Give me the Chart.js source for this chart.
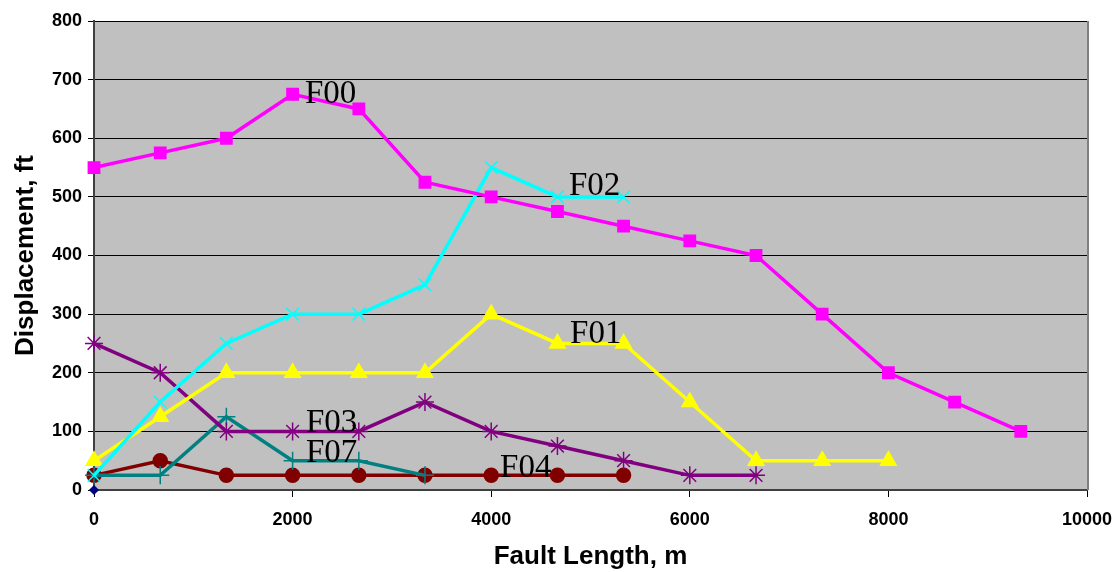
<!DOCTYPE html>
<html>
<head>
<meta charset="utf-8">
<script src="https://cdn.jsdelivr.net/npm/chart.js@4/dist/chart.umd.min.js"></script>
<style>
html,body{margin:0;padding:0;background:#fff;}
#wrap{width:1119px;height:572px;}
</style>
</head>
<body>
<div id="wrap"><canvas id="c" width="1119" height="572"></canvas></div>
<script>
// Fault length positions (m)
const lengths = [0, 667, 1333, 2000, 2667, 3333, 4000, 4667, 5333, 6000, 6667, 7333, 8000, 8667, 9333];
// Displacement values (ft)
const F00 = [550, 575, 600, 675, 650, 525, 500, 475, 450, 425, 400, 300, 200, 150, 100];
const F02 = [25, 150, 250, 300, 300, 350, 550, 500, 500];
const F01 = [50, 125, 200, 200, 200, 200, 300, 250, 250, 150, 50, 50, 50];
const F03 = [250, 200, 100, 100, 100, 150, 100, 75, 50, 25, 25];
const F07 = [25, 25, 125, 50, 50, 25];
const F04 = [25, 50, 25, 25, 25, 25, 25, 25, 25];
const origin = [0];
const xTicks = [0, 2000, 4000, 6000, 8000, 10000];
const yTicks = [0, 100, 200, 300, 400, 500, 600, 700, 800];
const seriesLabels = [
  {text: 'F00', x: 2125, y: 660},
  {text: 'F02', x: 4783, y: 503},
  {text: 'F01', x: 4794, y: 251},
  {text: 'F03', x: 2135, y: 99},
  {text: 'F07', x: 2135, y: 48},
  {text: 'F04', x: 4089, y: 22}
];

function pts(vals){ return vals.map((v,i)=>({x: lengths[i], y: v})); }

const bgPlugin = {
  id: 'bg',
  beforeDraw(chart){
    const {ctx, chartArea:a} = chart;
    ctx.save();
    ctx.fillStyle = '#C0C0C0';
    ctx.fillRect(a.left, a.top, a.right - a.left, a.bottom - a.top);
    ctx.restore();
  },
  afterDatasetsDraw(chart){
    const {ctx, chartArea:a, scales} = chart;
    ctx.save();
    ctx.strokeStyle = '#808080';
    ctx.lineWidth = 2;
    ctx.beginPath();
    ctx.moveTo(a.right + 1, a.top);
    ctx.lineTo(a.right + 1, a.bottom);
    ctx.stroke();
    ctx.fillStyle = '#000';
    ctx.font = '33px "Liberation Serif", "Times New Roman", serif';
    ctx.textAlign = 'left';
    ctx.textBaseline = 'alphabetic';
    seriesLabels.forEach(l => {
      ctx.fillText(l.text, scales.x.getPixelForValue(l.x), scales.y.getPixelForValue(l.y));
    });
    ctx.restore();
  }
};

const tickFont = {family: '"Liberation Sans", Arial, sans-serif', size: 18, weight: 'bold'};
const titleFont = {family: '"Liberation Sans", Arial, sans-serif', size: 26, weight: 'bold'};

function ds(label, data, color, style, radius, extra){
  return Object.assign({
    label, data: pts(data),
    borderColor: color, backgroundColor: color,
    pointBackgroundColor: color, pointBorderColor: color,
    pointStyle: style, pointRadius: radius, pointHoverRadius: radius,
    borderWidth: 3.5, pointBorderWidth: 1.5, tension: 0, fill: false, clip: false
  }, extra || {});
}

new Chart(document.getElementById('c'), {
  type: 'line',
  data: {
    datasets: [
      ds('F00', F00, '#FF00FF', 'rect', 8),
      ds('F02', F02, '#00FFFF', 'crossRot', 9),
      ds('F01', F01, '#FFFF00', 'triangle', 9),
      ds('F03', F03, '#800080', 'star', 9),
      ds('F07', F07, '#008080', 'cross', 9),
      ds('F04', F04, '#800000', 'circle', 7),
      ds('origin', origin, '#000080', 'rectRot', 4, {showLine: false})
    ]
  },
  options: {
    responsive: false,
    animation: false,
    devicePixelRatio: 1,
    layout: {padding: {top: 21, right: 32, left: 0, bottom: 0}},
    plugins: {legend: {display: false}, tooltip: {enabled: false}},
    scales: {
      x: {
        type: 'linear', min: 0, max: 10000,
        afterBuildTicks(s){ s.ticks = xTicks.map(v => ({value: v})); },
        afterFit(s){ s.height = 82; s.paddingRight = 0; s.paddingLeft = 0; },
        grid: {display: true, drawOnChartArea: false, drawTicks: true, tickLength: 7, color: '#000', lineWidth: 1},
        border: {display: true, color: '#404040', width: 2},
        ticks: {font: tickFont, color: '#000', padding: 12, maxRotation: 0, callback: v => String(v)},
        title: {display: true, text: 'Fault Length, m', font: titleFont, color: '#000', padding: {top: 8, bottom: 0}}
      },
      y: {
        type: 'linear', min: 0, max: 800,
        afterBuildTicks(s){ s.ticks = yTicks.map(v => ({value: v})); },
        afterFit(s){ s.width = 94; },
        grid: {display: true, drawOnChartArea: true, drawTicks: true, tickLength: 6, color: '#000', lineWidth: 1},
        border: {display: true, color: '#404040', width: 2},
        ticks: {font: tickFont, color: '#000', padding: 6, callback: v => String(v)},
        title: {display: true, text: 'Displacement, ft', font: titleFont, color: '#000', padding: {top: 10, bottom: 8}}
      }
    }
  },
  plugins: [bgPlugin]
});
</script>
</body>
</html>
